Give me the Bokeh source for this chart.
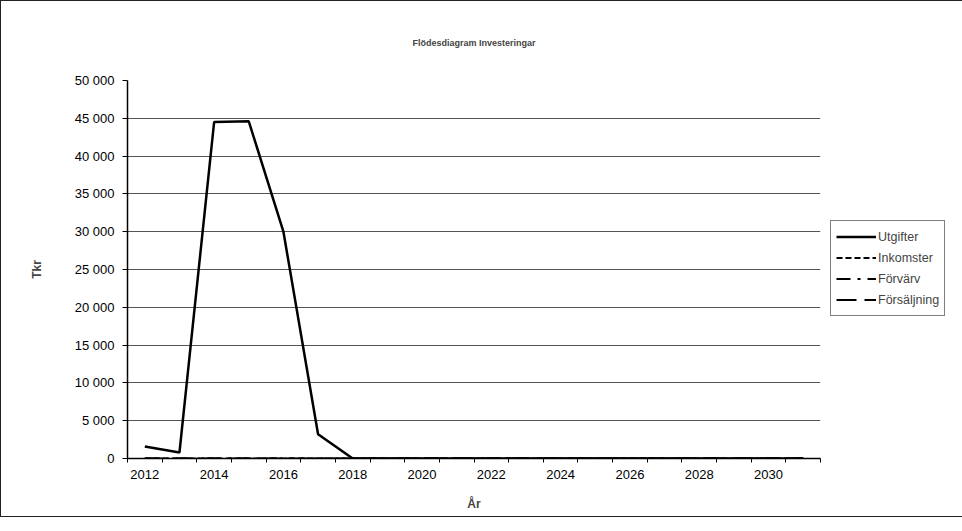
from bokeh.plotting import figure
from bokeh.layouts import row
from bokeh.models import FixedTicker, CustomJSTickFormatter, Legend, LegendItem, Range1d
from bokeh.embed import file_html
from bokeh.resources import INLINE

years = list(range(2012, 2032))
utgifter = [1600, 800, 44500, 44600, 30000, 3200, 0, 0, 0, 0, 0, 0, 0, 0, 0, 0, 0, 0, 0, 0]
inkomster = [0] * 20
forvarv = [0] * 20
forsaljning = [0] * 20
x_tick_labels = [2012, 2014, 2016, 2018, 2020, 2022, 2024, 2026, 2028, 2030]
y_ticks = list(range(0, 50001, 5000))

FONT = "Liberation Sans"

p = figure(width=824, height=515, output_backend="svg", toolbar_location=None,
           x_range=Range1d(2011.5, 2031.5), y_range=Range1d(0, 50000),
           min_border_left=126, min_border_right=5, min_border_top=79, min_border_bottom=58,
           title="Flödesdiagram Investeringar")
p.title.align = "center"
p.title.text_font = FONT
p.title.text_font_size = "9px"
p.title.text_font_style = "bold"
p.title.standoff = 65

p.outline_line_color = None
p.xgrid.grid_line_color = None
p.ygrid.grid_line_color = "#555"
p.ygrid.grid_line_width = 1

p.xaxis.ticker = FixedTicker(ticks=x_tick_labels, minor_ticks=[y - 0.5 for y in years] + [2031.5])
p.xaxis.major_tick_line_color = None
p.xaxis.minor_tick_in = 0
p.xaxis.minor_tick_out = 4
p.xaxis.minor_tick_line_color = "black"
p.yaxis.ticker = FixedTicker(ticks=y_ticks)
p.yaxis.minor_tick_line_color = None
p.yaxis.major_tick_in = 0
p.yaxis.major_tick_out = 5
p.yaxis.major_label_standoff = 8
p.yaxis.formatter = CustomJSTickFormatter(code='return Math.round(tick).toString().replace(/\\B(?=(\\d{3})+(?!\\d))/g, " ");')

for ax in (p.xaxis[0], p.yaxis[0]):
    ax.axis_line_color = "black"
    ax.axis_line_width = 1.5
    ax.major_label_text_font = FONT
    ax.major_label_text_font_size = "13px"
    ax.major_label_text_color = "black"
    ax.axis_label_text_font = FONT
    ax.axis_label_text_font_size = "12px"
    ax.axis_label_text_font_style = "bold"

p.xaxis.axis_label = "År"
p.xaxis.axis_label_standoff = 15
p.yaxis.axis_label = "Tkr"
p.yaxis.axis_label_standoff = 28

styles = [
    ("Utgifter", utgifter, "solid", 2.5),
    ("Inkomster", inkomster, "6 3", 2),
    ("Förvärv", forvarv, "14 7 3 7", 2),
    ("Försäljning", forsaljning, "20 8", 2),
]
for label, vals, dash, w in reversed(styles):
    p.line(years, vals, line_color="black", line_width=w, line_dash=dash)

# legend panel: a second figure that carries only the legend
lp = figure(width=138, height=515, output_backend="svg", toolbar_location=None,
            x_range=Range1d(0, 1), y_range=Range1d(1e6, 2e6),
            x_axis_type=None, y_axis_type=None,
            min_border_left=0, min_border_right=0, min_border_top=0, min_border_bottom=0)
lp.outline_line_color = None
lp.xgrid.grid_line_color = None
lp.ygrid.grid_line_color = None
items = []
for label, vals, dash, w in styles:
    r = lp.line(years, vals, line_color="black", line_width=w, line_dash=dash)
    items.append(LegendItem(label=label, renderers=[r]))

legend = Legend(items=items, location=(5, 142))
legend.label_text_font = FONT
legend.label_text_font_size = "12.5px"
legend.border_line_color = "black"
legend.glyph_width = 40
legend.glyph_height = 21
legend.label_height = 21
legend.spacing = 0
legend.padding = 5
legend.label_standoff = 2
legend.margin = 0
lp.add_layout(legend, "center")

layout = row(p, lp, spacing=0)
layout.styles = {"border": "1px solid #222"}

open("out.html", "w").write(file_html(layout, INLINE))
